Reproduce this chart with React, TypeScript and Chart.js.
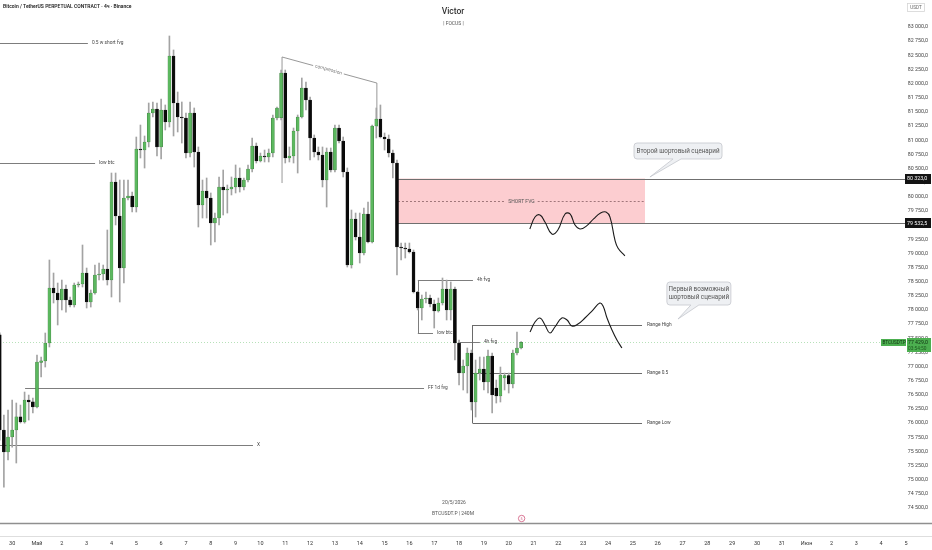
import React, { useEffect, useRef } from "react";
import { Chart, registerables } from "chart.js";

Chart.register(...registerables);

// x values are days counted from 1 May 00:00
const FIRST_CANDLE_DAY = -1.5;
const CANDLE_DAYS = 1 / 6;
const X_MIN = -1.49;
const X_MAX = 36.05;
const Y_MIN = 74236;
const Y_MAX = 83477;
const PRICE_STEP = 250;

const dayTickLabels = [
  "30", "Май", "2", "3", "4", "5", "6", "7", "8", "9", "10", "11", "12", "13", "14", "15", "16",
  "17", "18", "19", "20", "21", "22", "23", "24", "25", "26", "27", "28", "29", "30", "31",
  "Июн", "2", "3", "4", "5",
];

const opens = [
  77560, 75880, 75490, 75755, 75880, 76110, 76020, 76410, 76375, 76285,
  77075, 77100, 77416, 78388, 78300, 78176, 78370, 78176, 78088, 78441,
  78459, 78653, 78141, 78300, 78618, 78635, 78724, 78529, 80261, 79660,
  78741, 79978, 80014, 79819, 80844, 80826, 80968, 81480, 81551, 80880,
  81533, 81321, 82488, 81657, 81410, 81392, 80774, 81480, 80791, 79855,
  80102, 79978, 79537, 79625, 80173, 80120, 80138, 80173, 80332, 80173,
  80296, 80491, 80897, 80632, 80720, 80703, 80773, 81392, 81400, 82187,
  80685, 80720, 81162, 81410, 81922, 81710, 81039, 80791, 80738, 80296,
  80791, 80473, 81215, 80986, 80438, 78794, 79607, 79289, 79006, 79696,
  79201, 81251, 81374, 81056, 81021, 80773, 80597, 79113, 79095, 79077,
  79024, 78317, 78035, 78194, 78211, 78105, 77982, 78123, 78370, 78000,
  78370, 77416, 76886, 77010, 77240, 76374, 76886, 76957, 76727, 77187,
  76620, 76480, 76800, 76840, 76692, 77240, 77328,
];
const highs = [
  77595, 76145, 76232, 76410, 76356, 76320, 76550, 76497, 76444, 77204,
  77169, 77593, 78883, 78653, 78476, 78529, 78441, 78229, 78476, 78494,
  79148, 78741, 78353, 78794, 78830, 78794, 79413, 80420, 80420, 80296,
  80296, 80296, 80084, 81056, 81268, 81074, 81657, 81675, 81657, 81728,
  81622, 82841, 82594, 81851, 81675, 81480, 81675, 81569, 80880, 80296,
  80332, 80067, 79713, 80350, 80473, 80208, 80350, 80562, 80509, 80332,
  80562, 81038, 80950, 80773, 80826, 80844, 81445, 81586, 82240, 82240,
  80880, 81215, 81445, 82099, 82028, 81763, 81092, 80880, 80880, 80862,
  80862, 81268, 81268, 81056, 80509, 79766, 79713, 79713, 79802, 79908,
  81268, 81569, 81622, 81127, 81092, 80826, 80650, 79183, 79183, 79183,
  79060, 78330, 78264, 78317, 78264, 78176, 78211, 78565, 78529, 78494,
  78406, 77469, 77116, 77328, 77293, 77116, 77169, 77169, 77293, 77240,
  76762, 76992, 76886, 76886, 77293, 77610, 77440,
];
const lows = [
  75700, 74870, 75349, 75578, 75296, 76002, 76000, 76055, 76179, 76268,
  76816, 76992, 77346, 78123, 77735, 78000, 77963, 78052, 78052, 78406,
  78406, 78035, 78052, 78280, 78529, 78529, 78441, 78229, 79502, 78141,
  78476, 79943, 79731, 79731, 80685, 80508, 80880, 81410, 80721, 80668,
  81180, 81233, 81074, 81145, 80950, 80685, 80703, 80526, 79466, 79625,
  79625, 79148, 79201, 79502, 79678, 79713, 80032, 80067, 80084, 80120,
  80261, 80438, 80597, 80615, 80615, 80615, 80703, 81357, 81357, 80597,
  80615, 80597, 80420, 81392, 81533, 80650, 80703, 80650, 80173, 79819,
  80438, 80438, 80950, 80350, 78759, 78741, 79236, 78830, 78971, 79183,
  79183, 81039, 81039, 80826, 80703, 80332, 78618, 78883, 78918, 79006,
  78300, 78000, 77823, 78123, 78052, 77681, 77963, 78088, 77823, 77823,
  77116, 76674, 76586, 76533, 76232, 76109, 76762, 76586, 76533, 76179,
  76356, 76374, 76586, 76533, 76621, 77204, 77310,
];
const closes = [
  75880, 75490, 75755, 75880, 76110, 76020, 76410, 76375, 76285, 77080,
  77100, 77416, 78388, 78300, 78176, 78370, 78176, 78088, 78441, 78459,
  78653, 78141, 78300, 78618, 78635, 78724, 78529, 80261, 79660, 78741,
  79978, 80014, 79819, 80844, 80826, 80968, 81480, 81551, 80880, 81533,
  81321, 82488, 81657, 81410, 81392, 80774, 81480, 80791, 79855, 80102,
  79978, 79537, 79625, 80173, 80120, 80138, 80173, 80332, 80173, 80296,
  80491, 80897, 80632, 80720, 80703, 80773, 81392, 81569, 82187, 80685,
  80720, 81162, 81410, 81922, 81710, 81039, 80791, 80738, 80296, 80791,
  80473, 81215, 80986, 80438, 78794, 79607, 79289, 79006, 79696, 79201,
  81251, 81374, 81056, 81021, 80773, 80597, 79113, 79095, 79077, 79024,
  78317, 78035, 78194, 78211, 78105, 77982, 78123, 78370, 78000, 78370,
  77416, 76886, 77010, 77240, 76374, 76886, 76957, 76727, 77187, 76498,
  76480, 76851, 76840, 76692, 77240, 77328, 77429,
];

const lastPrice = 77429;
const lastPriceText = "77 429,0";
const countdownText = "03:54:50";

// hand-drawn scenario paths (day, price)
const curve1Days = [19.85, 20.06, 20.26, 20.46, 20.74, 20.98, 21.27, 21.47, 21.67, 21.87, 22.15, 22.42, 22.70, 22.92, 23.08, 23.28, 23.40, 23.68];
const curve1Prices = [79431, 79643, 79678, 79554, 79342, 79413, 79696, 79696, 79502, 79431, 79490, 79610, 79713, 79731, 79640, 79236, 79095, 78954];
const curve2Days = [19.86, 20.06, 20.26, 20.46, 20.66, 20.86, 21.14, 21.35, 21.55, 21.79, 22.07, 22.39, 22.67, 22.80, 22.96, 23.16, 23.36, 23.56];
const curve2Prices = [77611, 77787, 77858, 77734, 77593, 77699, 77858, 77823, 77717, 77752, 77858, 77999, 78123, 78070, 77858, 77646, 77469, 77328];

// horizontal levels
const levelNames = ["0.5 w short fvg", "low btc", "X", "FF 1d fvg", "4h fvg", "low btc", "4h fvg"];
const levelPrices = [82717, 80597, 75614, 76621, 78530, 77593, 77434];
const levelStartDays = [-1.6, -1.6, -1.6, -0.48, 15.34, 15.34, 16.96];
const levelEndDays = [2.05, 2.34, 8.7, 15.59, 17.56, 15.95, 17.84];

// range
const rangeNames = ["Range High", "Range 0.5", "Range Low"];
const rangePrices = [77734, 76886, 76003];
const rangeStartDay = 17.52;
const rangeEndDay = 24.37;

// short FVG zone
const fvgTop = 80323;
const fvgBottom = 79532.5;
const fvgTopText = "80 323,0";
const fvgBottomText = "79 532,5";
const fvgStartDay = 14.54;
const fvgEndDay = 24.49;

// compression bracket (day, price)
const compressionDays = [9.87, 9.87, 13.69, 13.69];
const compressionPrices = [80243, 82470, 82010, 81233];

// callouts: box centre and tip (day, price)
const callout1Lines = ["Второй шортовый сценарий"];
const callout1Center = [25.82, 80809];
const callout1Tip = [24.69, 80350];
const callout2Lines = ["Первый возможный", "шортовый сценарий"];
const callout2Center = [26.66, 78291];
const callout2Tip = [25.82, 77840];

const FONT = 'Roboto, "Noto Sans", "DejaVu Sans", sans-serif';
const f = (s: number, w = 400) => `${w} ${s}px ${FONT}`;

const fmtPrice = (n: number) => {
  const [ip, dp] = n.toFixed(1).split(".");
  return ip.replace(/\B(?=(\d{3})+(?!\d))/g, " ") + "," + dp;
};

function seg(ctx: CanvasRenderingContext2D, x0: number, y0: number, x1: number, y1: number) {
  ctx.beginPath();
  ctx.moveTo(x0, y0);
  ctx.lineTo(x1, y1);
  ctx.stroke();
}
const crisp = (v: number) => Math.round(v) + 0.5;

function drawCallout(
  ctx: CanvasRenderingContext2D,
  cx: number, cy: number, w: number, h: number,
  tipX: number, tipY: number, baseX: number, lines: string[]
) {
  const x0 = cx - w / 2, y0 = cy - h / 2, x1 = cx + w / 2, y1 = cy + h / 2, r = 3;
  ctx.beginPath();
  ctx.moveTo(x0 + r, y0);
  ctx.lineTo(x1 - r, y0);
  ctx.arcTo(x1, y0, x1, y0 + r, r);
  ctx.lineTo(x1, y1 - r);
  ctx.arcTo(x1, y1, x1 - r, y1, r);
  ctx.lineTo(baseX + 5, y1);
  ctx.lineTo(tipX, tipY);
  ctx.lineTo(baseX - 3, y1);
  ctx.lineTo(x0 + r, y1);
  ctx.arcTo(x0, y1, x0, y1 - r, r);
  ctx.lineTo(x0, y0 + r);
  ctx.arcTo(x0, y0, x0 + r, y0, r);
  ctx.closePath();
  ctx.fillStyle = "#eef0f3";
  ctx.fill();
  ctx.strokeStyle = "#c4c7cd";
  ctx.lineWidth = 0.8;
  ctx.stroke();
  ctx.fillStyle = "#555";
  ctx.font = f(6.3);
  ctx.textAlign = "center";
  ctx.textBaseline = "middle";
  const lh = 8;
  lines.forEach((l, i) => {
    ctx.fillText(l, cx, cy + (i - (lines.length - 1) / 2) * lh);
  });
}

const overlayPlugin = {
  id: "overlay",
  beforeDatasetsDraw(chart: any) {
    const ctx: CanvasRenderingContext2D = chart.ctx;
    const xs = chart.scales.x, ys = chart.scales.y;
    const X = (t: number) => xs.getPixelForValue(t);
    const Y = (p: number) => ys.getPixelForValue(p);
    ctx.save();

    // current price dotted line
    ctx.strokeStyle = "#b7e1b9";
    ctx.lineWidth = 1;
    ctx.setLineDash([1, 2]);
    seg(ctx, 0, crisp(Y(lastPrice)), 880, crisp(Y(lastPrice)));
    ctx.setLineDash([]);

    // short FVG zone
    const bx0 = X(fvgStartDay), bx1 = X(fvgEndDay), by0 = Y(fvgTop), by1 = Y(fvgBottom);
    ctx.fillStyle = "rgba(242,54,69,0.25)";
    ctx.fillRect(bx0, by0, bx1 - bx0, by1 - by0);
    ctx.strokeStyle = "#6f6f6f";
    ctx.lineWidth = 1;
    seg(ctx, bx0, crisp(by0), 905, crisp(by0));
    seg(ctx, bx0, crisp(by1), 905, crisp(by1));
    const my = crisp(Y((fvgTop + fvgBottom) / 2));
    ctx.font = f(5);
    const lab = "SHORT FVG";
    const tw = ctx.measureText(lab).width;
    const mx = (bx0 + bx1) / 2;
    ctx.strokeStyle = "#8a6166";
    ctx.lineWidth = 0.8;
    ctx.setLineDash([2, 2]);
    seg(ctx, bx0, my, mx - tw / 2 - 3, my);
    seg(ctx, mx + tw / 2 + 3, my, bx1, my);
    ctx.setLineDash([]);
    ctx.fillStyle = "#555";
    ctx.textAlign = "center";
    ctx.textBaseline = "middle";
    ctx.fillText(lab, mx, my);

    // levels
    ctx.strokeStyle = "#7d7d7d";
    ctx.lineWidth = 1;
    levelPrices.forEach((p, i) => {
      seg(ctx, X(levelStartDays[i]), crisp(Y(p)), X(levelEndDays[i]), crisp(Y(p)));
    });
    // bracket joining the upper 4h fvg and lower low btc
    seg(ctx, crisp(X(levelStartDays[4])), Y(levelPrices[4]), crisp(X(levelStartDays[4])), Y(levelPrices[5]));

    // range box
    ctx.strokeStyle = "#6a6a6a";
    const rx0 = crisp(X(rangeStartDay));
    seg(ctx, rx0, Y(rangePrices[0]), rx0, Y(rangePrices[2]));
    rangePrices.forEach((p) => seg(ctx, rx0, crisp(Y(p)), X(rangeEndDay), crisp(Y(p))));

    // compression bracket
    ctx.strokeStyle = "#8c8c8c";
    ctx.lineWidth = 0.9;
    const cxp = compressionDays.map(X), cyp = compressionPrices.map(Y);
    seg(ctx, cxp[0], cyp[0], cxp[1], cyp[1]);
    seg(ctx, cxp[2], cyp[2], cxp[3], cyp[3]);
    const ang = Math.atan2(cyp[2] - cyp[1], cxp[2] - cxp[1]);
    const midX = cxp[1] + (cxp[2] - cxp[1]) * 0.49, midY = cyp[1] + (cyp[2] - cyp[1]) * 0.49;
    ctx.font = f(4.8);
    const cw = ctx.measureText("compression").width / 2 + 2;
    const ux = Math.cos(ang), uy = Math.sin(ang);
    seg(ctx, cxp[1], cyp[1], midX - ux * cw, midY - uy * cw);
    seg(ctx, midX + ux * cw, midY + uy * cw, cxp[2], cyp[2]);
    ctx.save();
    ctx.translate(midX, midY);
    ctx.rotate(ang);
    ctx.fillStyle = "#777";
    ctx.textAlign = "center";
    ctx.textBaseline = "middle";
    ctx.fillText("compression", 0, 0);
    ctx.restore();

    ctx.restore();
  },
  afterDraw(chart: any) {
    const ctx: CanvasRenderingContext2D = chart.ctx;
    const xs = chart.scales.x, ys = chart.scales.y;
    const X = (t: number) => xs.getPixelForValue(t);
    const Y = (p: number) => ys.getPixelForValue(p);
    const area = chart.chartArea;
    ctx.save();

    // level labels
    ctx.font = f(4.8);
    ctx.fillStyle = "#444";
    ctx.textAlign = "left";
    ctx.textBaseline = "middle";
    levelNames.forEach((n, i) => ctx.fillText(n, X(levelEndDays[i]) + 4, Y(levelPrices[i])));
    rangeNames.forEach((n, i) => ctx.fillText(n, X(rangeEndDay) + 5, Y(rangePrices[i])));

    // callouts
    {
      const cx = X(callout1Center[0]), cy = Y(callout1Center[1]);
      drawCallout(ctx, cx, cy, 88, 16, X(callout1Tip[0]), Y(callout1Tip[1]), cx - 2, callout1Lines);
      const cx2 = X(callout2Center[0]), cy2 = Y(callout2Center[1]);
      drawCallout(ctx, cx2, cy2, 64, 23, X(callout2Tip[0]), Y(callout2Tip[1]), cx2 - 5, callout2Lines);
    }

    // bottom separators
    ctx.strokeStyle = "#8f8f8f";
    ctx.lineWidth = 1.3;
    seg(ctx, 0, area.bottom + 0.5, 932, area.bottom + 0.5);
    ctx.strokeStyle = "#dedede";
    ctx.lineWidth = 1;
    seg(ctx, 0, 536.5, 932, 536.5);

    // price tags on the axis
    const tag = (p: number, text: string, bg: string, fg: string) => {
      const y = Y(p);
      ctx.fillStyle = bg;
      ctx.fillRect(905, Math.round(y) - 5, 26, 10);
      ctx.fillStyle = fg;
      ctx.font = f(5.3);
      ctx.textAlign = "left";
      ctx.textBaseline = "middle";
      ctx.fillText(text, 907, y);
    };
    tag(fvgTop, fvgTopText, "#131313", "#fff");
    tag(fvgBottom, fvgBottomText, "#131313", "#fff");

    // current price tags
    const ly = Y(lastPrice);
    ctx.fillStyle = "#4caf50";
    ctx.fillRect(881, Math.round(ly) - 3, 25, 7);
    ctx.fillRect(907, Math.round(ly) - 4, 24, 14);
    ctx.fillStyle = "#0f2f10";
    ctx.font = f(4.6);
    ctx.textAlign = "left";
    ctx.textBaseline = "middle";
    ctx.fillText("BTCUSDT.P", 882.5, ly + 0.5);
    ctx.font = f(5.2);
    ctx.fillText(lastPriceText, 908, ly);
    ctx.fillStyle = "#1e5a20";
    ctx.font = f(4.8);
    ctx.fillText(countdownText, 908, ly + 6.5);

    // USDT box
    ctx.strokeStyle = "#d5d5d5";
    ctx.lineWidth = 0.8;
    ctx.strokeRect(907.5, 3.5, 17, 8);
    ctx.fillStyle = "#666";
    ctx.font = f(4.6);
    ctx.textAlign = "center";
    ctx.fillText("USDT", 916, 7.8);

    // title
    ctx.fillStyle = "#222";
    ctx.font = f(5, 600);
    ctx.textAlign = "left";
    ctx.fillText("Bitcoin / TetherUS PERPETUAL CONTRACT · 4ч · Binance", 3, 7);

    // watermark texts
    ctx.textAlign = "center";
    ctx.fillStyle = "#333";
    ctx.font = f(8.5, 500);
    ctx.fillText("Victor", 453, 12);
    ctx.fillStyle = "#555";
    ctx.font = f(5);
    ctx.fillText("| FOCUS |", 453.5, 23.5);
    ctx.fillText("20/5/2026", 454, 503);
    ctx.fillText("BTCUSDT.P | 240M", 453, 514);

    // event marker
    const ex = X(FIRST_CANDLE_DAY + (opens.length - 1) * CANDLE_DAYS) + 0.5;
    ctx.strokeStyle = "#d0577c";
    ctx.lineWidth = 0.8;
    ctx.beginPath();
    ctx.arc(ex, 518.5, 3.2, 0, Math.PI * 2);
    ctx.stroke();
    ctx.fillStyle = "#d0577c";
    ctx.font = f(3.6);
    ctx.fillText("5", ex, 518.7);

    ctx.restore();
  },
};

export default function App() {
  const ref = useRef<HTMLCanvasElement>(null);
  useEffect(() => {
    const canvas = ref.current;
    if (!canvas) return;
    const times = opens.map((_, i) => FIRST_CANDLE_DAY + i * CANDLE_DAYS);
    const up = closes.map((c, i) => c >= opens[i]);
    const chart = new Chart(canvas, {
      type: "bar",
      data: {
        datasets: [
          {
            type: "line",
            label: "scenario 2",
            data: curve1Days.map((t, i) => ({ x: t, y: curve1Prices[i] })),
            borderColor: "#1a1a1a",
            borderWidth: 1.1,
            pointRadius: 0,
            tension: 0.45,
            fill: false,
            order: 0,
          },
          {
            type: "line",
            label: "scenario 1",
            data: curve2Days.map((t, i) => ({ x: t, y: curve2Prices[i] })),
            borderColor: "#1a1a1a",
            borderWidth: 1.1,
            pointRadius: 0,
            tension: 0.45,
            fill: false,
            order: 0,
          },
          {
            type: "bar",
            label: "body",
            data: times.map((t, i) => ({ x: t, y: [opens[i], closes[i]] })),
            backgroundColor: up.map((u) => (u ? "#5cb85f" : "#0a0a0a")),
            borderColor: up.map((u) => (u ? "#3a7d3c" : "#0a0a0a")),
            borderWidth: 0.5,
            borderSkipped: false,
            barThickness: 3,
            grouped: false,
            order: 1,
          },
          {
            type: "bar",
            label: "wick",
            data: times.map((t, i) => ({ x: t, y: [lows[i], highs[i]] })),
            backgroundColor: "#a3a3a3",
            barThickness: 1,
            grouped: false,
            order: 2,
          },
        ] as any,
      },
      options: {
        responsive: true,
        maintainAspectRatio: false,
        animation: false,
        events: [],
        layout: { padding: 0 },
        plugins: { legend: { display: false }, tooltip: { enabled: false } },
        scales: {
          x: {
            type: "linear",
            min: X_MIN,
            max: X_MAX,
            offset: false,
            position: "bottom",
            grid: { display: false },
            border: { display: false },
            ticks: {
              stepSize: 1,
              autoSkip: false,
              maxRotation: 0,
              includeBounds: false,
              padding: 9,
              color: "#333",
              font: { size: 5.5, family: FONT },
              callback: (v: any) => {
                const k = Math.round(Number(v)) + 1;
                return k >= 0 && k < dayTickLabels.length ? dayTickLabels[k] : "";
              },
            },
            afterFit: (s: any) => {
              s.height = 27;
              s.paddingLeft = 0;
              s.paddingRight = 0;
            },
          },
          y: {
            type: "linear",
            position: "right",
            min: Y_MIN,
            max: Y_MAX,
            grid: { display: false },
            border: { display: false },
            afterBuildTicks: (s: any) => {
              const t: { value: number }[] = [];
              for (let v = Math.ceil(s.min / PRICE_STEP) * PRICE_STEP; v <= s.max; v += PRICE_STEP) t.push({ value: v });
              s.ticks = t;
            },
            ticks: {
              mirror: true,
              padding: -4,
              autoSkip: false,
              color: "#444",
              font: { size: 5.3, family: FONT },
              callback: (v: any) => {
                const n = Number(v);
                if (n < 74400 || n > 83100) return "";
                return fmtPrice(n);
              },
            },
            afterFit: (s: any) => {
              s.width = 0;
              s.paddingTop = 0;
              s.paddingBottom = 0;
            },
          },
        },
      } as any,
      plugins: [overlayPlugin],
    });
    return () => chart.destroy();
  }, []);
  return (
    <div style={{ position: "fixed", left: 0, top: 0, width: 932, height: 550, background: "#fff" }}>
      <canvas ref={ref} />
    </div>
  );
}
